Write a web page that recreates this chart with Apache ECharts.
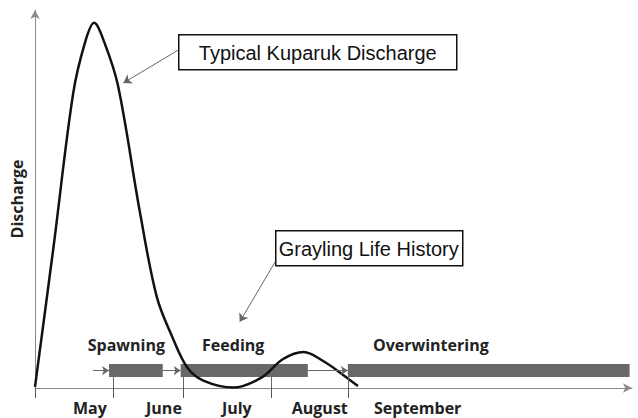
<!DOCTYPE html>
<html>
<head>
<meta charset="utf-8">
<script src="https://cdn.jsdelivr.net/npm/echarts@6/dist/echarts.min.js"></script>
<style>
	html, body { margin: 0; padding: 0; background: #fff; }
	#chart { width: 638px; height: 418px; }
</style>
</head>
<body>
<div id="chart"></div>
<script>
// x runs 0..100 across the season, y is relative discharge 0..100
const months = ["May", "June", "July", "August", "September"];
const monthLabelPos = [9.2, 21.6, 33.8, 47.7, 64.1];
const monthTicks = [0, 13.1, 24.8, 39.5, 52.4];

const dischargeX = [0, 3.1, 6.4, 8.4, 9.9, 11.6, 13.9, 17.6, 20.4, 23.0, 25.6, 28.4, 33.2, 38.0, 41.5, 45.0, 48.4, 51.5, 54.1];
const dischargeY = [0.3, 37.3, 78.0, 91.5, 96.6, 91.5, 80.0, 46.3, 24.1, 13.5, 5.2, 1.8, 0.1, 2.8, 7.6, 9.5, 7.0, 3.6, 0.5];

const stageNames = ["Spawning", "Feeding", "Overwintering"];
const stageStart = [12.4, 24.4, 52.4];
const stageEnd = [21.4, 45.7, 99.6];
const stageLabelX = [15.3, 33.2, 66.3];
const arrowFrom = [9.7, 21.4, 45.7];

const stageLevel = 4.6;
const labelLevel = 11.4;
const barBottom = 2.9;

const chart = echarts.init(document.getElementById("chart"), null, {renderer: "svg"});

const boldFamily = "'Open Sans', Lato, sans-serif";
const boldFont = "bold 16px " + boldFamily;

let markData = [];
arrowFrom.forEach((x, i) => {
	markData.push([
		{coord: [x, stageLevel], symbol: "none"},
		{coord: [stageStart[i], stageLevel], symbol: "arrow"}
	]);
});
monthTicks.slice(1).forEach(x => {
	markData.push([
		{coord: [x, 0], symbol: "none"},
		{coord: [x, barBottom], symbol: "none"}
	]);
});

chart.setOption({
	animation: false,
	grid: {left: 35, right: 6, top: 10, bottom: 30},
	xAxis: {
		type: "value",
		min: 0,
		max: 100,
		splitLine: {show: false},
		axisLine: {
			lineStyle: {color: "#8a8a8a", width: 1},
			symbol: ["none", "arrow"],
			symbolSize: [7, 9]
		},
		axisTick: {
			customValues: monthTicks,
			length: 10,
			lineStyle: {color: "#555"}
		},
		axisLabel: {
			customValues: monthLabelPos,
			margin: 12,
			lineHeight: 16,
			color: "#222",
			fontFamily: boldFamily,
			fontWeight: "bold",
			fontSize: 16,
			formatter: v => months[monthLabelPos.indexOf(v)]
		}
	},
	yAxis: {
		type: "value",
		min: 0,
		max: 100,
		name: "Discharge",
		nameLocation: "middle",
		nameGap: 10,
		nameTextStyle: {
			color: "#222",
			fontFamily: boldFamily,
			fontWeight: "bold",
			fontSize: 16
		},
		splitLine: {show: false},
		axisTick: {show: false},
		axisLabel: {show: false},
		axisLine: {
			show: true,
			lineStyle: {color: "#8a8a8a", width: 1},
			symbol: ["none", "arrow"],
			symbolSize: [7, 9]
		}
	},
	series: [
		{
			type: "custom",
			z: 2,
			data: stageNames.map((n, i) => [stageStart[i], stageEnd[i], stageLabelX[i]]),
			renderItem(params, api) {
				const s = api.coord([api.value(0), stageLevel]);
				const e = api.coord([api.value(1), stageLevel]);
				const t = api.coord([api.value(2), labelLevel]);
				return {
					type: "group",
					children: [
						{
							type: "rect",
							shape: {x: s[0], y: s[1] - 6.5, width: e[0] - s[0], height: 13},
							style: {fill: "#686868"}
						},
						{
							type: "text",
							x: t[0],
							y: t[1],
							style: {
								text: stageNames[params.dataIndex],
								font: boldFont,
								fill: "#222",
								align: "center",
								verticalAlign: "middle"
							}
						}
					]
				};
			},
			markLine: {
				silent: true,
				symbolSize: 7,
				label: {show: false},
				lineStyle: {color: "#666", width: 1, type: "solid"},
				data: markData
			}
		},
		{
			type: "line",
			z: 3,
			smooth: 0.35,
			showSymbol: false,
			lineStyle: {color: "#111", width: 2.5},
			data: dischargeX.map((x, i) => [x, dischargeY[i]]),
			markLine: {
				silent: true,
				symbol: ["none", "arrow"],
				symbolSize: 8,
				label: {show: false},
				lineStyle: {color: "#666", width: 1, type: "solid"},
				data: [
					[{coord: [24.0, 89.4]}, {coord: [14.8, 80.7]}],
					[{coord: [40.2, 33.3]}, {coord: [34.3, 17.5]}]
				]
			}
		}
	],
	graphic: [
		{
			type: "group",
			left: 178,
			top: 34,
			children: [
				{type: "rect", shape: {x: 0, y: 0, width: 278, height: 35}, style: {fill: "#fff", stroke: "#111", lineWidth: 1.5}},
				{type: "text", x: 139, y: 18, style: {text: "Typical Kuparuk Discharge", font: "20px 'Liberation Sans', Arial, sans-serif", fill: "#111", align: "center", verticalAlign: "middle"}}
			]
		},
		{
			type: "group",
			left: 275,
			top: 230,
			children: [
				{type: "rect", shape: {x: 0, y: 0, width: 187, height: 35}, style: {fill: "#fff", stroke: "#111", lineWidth: 1.5}},
				{type: "text", x: 93, y: 18, style: {text: "Grayling Life History", font: "20px 'Liberation Sans', Arial, sans-serif", fill: "#111", align: "center", verticalAlign: "middle"}}
			]
		}
	]
});
</script>
</body>
</html>
